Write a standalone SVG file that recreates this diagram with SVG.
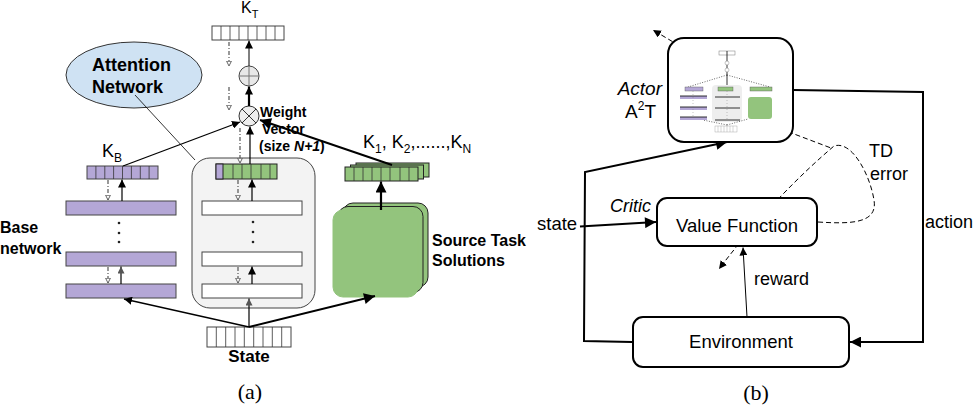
<svg xmlns="http://www.w3.org/2000/svg" width="974" height="406" viewBox="0 0 974 406">
<defs>
<style>
.t{font-family:"Liberation Sans",Arial,sans-serif;fill:#000}
.b{font-weight:bold}
.s{font-family:"Liberation Serif","Times New Roman",serif;fill:#000}
.ln{fill:none;stroke:#000}
.dd{fill:none;stroke:#555;stroke-width:1.2;stroke-dasharray:4 2 1 2}
.cell{stroke:#333;stroke-width:0.8}
.wbar{fill:#fff;stroke:#444;stroke-width:1}
.pbar{fill:#b4a7d6;stroke:#444;stroke-width:1}
.gbar{fill:#93c47d;stroke:#222;stroke-width:1}
.box{fill:#fff;stroke:#000;stroke-width:2}
.dash{fill:none;stroke:#000;stroke-width:1;stroke-dasharray:5 3}
</style>
<marker id="ah" viewBox="0 0 10 10" refX="10" refY="5" markerWidth="8" markerHeight="8" markerUnits="userSpaceOnUse" orient="auto"><path d="M0,0 L10,5 L0,10 z" fill="#000"/></marker>
<marker id="ahL" viewBox="0 0 10 10" refX="10" refY="5" markerWidth="12" markerHeight="11" markerUnits="userSpaceOnUse" orient="auto"><path d="M0,0 L10,5 L0,10 z" fill="#000"/></marker>
<marker id="ahg" viewBox="0 0 10 10" refX="10" refY="5" markerWidth="7" markerHeight="7" markerUnits="userSpaceOnUse" orient="auto"><path d="M0,0 L10,5 L0,10 z" fill="#555"/></marker>
<marker id="ahh" viewBox="0 0 10 10" refX="9" refY="5" markerWidth="6" markerHeight="6" markerUnits="userSpaceOnUse" orient="auto"><path d="M1,1 L9,5 L1,9 z" fill="#fff" stroke="#555" stroke-width="1.5"/></marker>
</defs>

<!-- ===== Panel (a) ===== -->
<g id="attention-network">
<ellipse cx="134" cy="75" rx="68" ry="33" fill="#cfe2f3" stroke="#333" stroke-width="1"/>
<text class="t b" x="92" y="71" font-size="18">Attention</text>
<text class="t b" x="92" y="93" font-size="18">Network</text>
</g>

<g id="kt-bar">
<rect class="wbar" x="212" y="26" width="72" height="14"/>
<path class="cell" d="M221,26v14M230,26v14M239,26v14M248,26v14M257,26v14M266,26v14M275,26v14"/>
<text class="t" x="241" y="13" font-size="16">K<tspan font-size="11" dy="5">T</tspan></text>
</g>

<g id="plus-node">
<circle cx="249" cy="76" r="10" fill="#e8e8e8" stroke="#444" stroke-width="1"/>
<path d="M239,76h20M249,66v20" stroke="#777" stroke-width="1"/>
</g>

<g id="times-node">
<circle cx="249" cy="116" r="10" fill="#eee" stroke="#333" stroke-width="1"/>
<path d="M242,109L256,123M256,109L242,123" stroke="#333" stroke-width="1"/>
</g>

<g id="weight-vector-label">
<text class="t b" x="260" y="117" font-size="14">Weight</text>
<text class="t b" x="262" y="134" font-size="14">Vector</text>
<text class="t b" x="259" y="151" font-size="14">(size <tspan font-style="italic">N+1</tspan>)</text>
</g>

<g id="base-network">
<rect class="pbar" x="87" y="166" width="71" height="13"/>
<path class="cell" d="M95.9,166v13M104.8,166v13M113.6,166v13M122.5,166v13M131.4,166v13M140.3,166v13M149.1,166v13"/>
<text class="t" x="102" y="157" font-size="18">K<tspan font-size="12" dy="5">B</tspan></text>
<rect class="pbar" x="66" y="201" width="110" height="14"/>
<rect class="pbar" x="66" y="252" width="110" height="14"/>
<rect class="pbar" x="66" y="284" width="110" height="14"/>
<circle cx="119" cy="223" r="1.3" fill="#222"/>
<circle cx="119" cy="233" r="1.3" fill="#222"/>
<circle cx="119" cy="242" r="1.3" fill="#222"/>
<text class="t b" x="0" y="233" font-size="16">Base</text>
<text class="t b" x="0" y="254" font-size="16">network</text>
</g>

<g id="target-network">
<rect x="192" y="158" width="123" height="150" rx="18" fill="#f3f3f3" stroke="#444" stroke-width="1"/>
<rect class="gbar" x="216" y="164" width="61" height="15"/>
<rect x="216" y="164" width="7" height="15" fill="#b4a7d6" stroke="#222" stroke-width="1"/>
<path class="cell" d="M233,164v15M242,164v15M251,164v15M261,164v15M270,164v15"/>
<rect class="wbar" x="202" y="201" width="100" height="14"/>
<rect class="wbar" x="202" y="252" width="100" height="14"/>
<rect class="wbar" x="202" y="284" width="100" height="14"/>
<circle cx="253" cy="222" r="1.3" fill="#222"/>
<circle cx="253" cy="232" r="1.3" fill="#222"/>
<circle cx="253" cy="242" r="1.3" fill="#222"/>
</g>

<g id="source-tasks">
<rect class="gbar" x="343" y="203" width="85" height="84" rx="10"/>
<rect class="gbar" x="338" y="206.5" width="85" height="86" rx="10"/>
<rect x="333" y="210" width="85" height="87" rx="10" fill="#93c47d" stroke="#93c47d" stroke-width="1"/>
<text class="t b" x="432" y="246" font-size="16">Source Task</text>
<text class="t b" x="432" y="266" font-size="16">Solutions</text>
</g>

<g id="source-k-bars">
<rect class="gbar" x="356" y="163" width="73" height="14"/>
<rect class="gbar" x="350.5" y="165" width="73" height="14"/>
<rect class="gbar" x="345" y="167" width="73" height="14"/>
<path class="cell" d="M354,167v14M363,167v14M372,167v14M381,167v14M390,167v14M400,167v14M409,167v14"/>
<text class="t" x="363" y="148" font-size="18">K<tspan font-size="12" dy="5">1</tspan><tspan dy="-5">, K</tspan><tspan font-size="12" dy="5">2</tspan><tspan dy="-5">,......,K</tspan><tspan font-size="12" dy="5">N</tspan></text>
</g>

<g id="state-input">
<rect class="wbar" x="207" y="327" width="84" height="20"/>
<path class="cell" d="M216.3,327v20M225.7,327v20M235,327v20M244.3,327v20M253.7,327v20M263,327v20M272.3,327v20M281.7,327v20"/>
<text class="t b" x="249" y="362" font-size="17" text-anchor="middle">State</text>
</g>

<text class="s" x="250" y="399" font-size="22" text-anchor="middle">(a)</text>

<g id="connectors-a">
<line class="ln" x1="135" y1="95" x2="195" y2="160" stroke-width="0.8"/>
<line class="ln" x1="249" y1="66" x2="249" y2="40.5" stroke-width="1" marker-end="url(#ah)"/>
<line class="ln" x1="249" y1="106" x2="249" y2="86.5" stroke-width="2.2" marker-end="url(#ah)"/>
<line class="ln" x1="250" y1="164" x2="250" y2="126.5" stroke-width="1.2" marker-end="url(#ah)"/>
<line class="ln" x1="252" y1="201" x2="252" y2="179.5" stroke-width="1.2" marker-end="url(#ah)"/>
<line class="ln" x1="252" y1="284" x2="252" y2="266.5" stroke-width="1.2" marker-end="url(#ah)"/>
<line class="ln" x1="249" y1="327" x2="249" y2="298.5" stroke="#555" stroke-width="1.2" marker-end="url(#ahg)"/>
<line class="ln" x1="122" y1="201" x2="122" y2="179.5" stroke-width="1.2" marker-end="url(#ah)"/>
<line class="ln" x1="121" y1="284" x2="121" y2="266.5" stroke="#555" stroke-width="1.2" marker-end="url(#ahg)"/>
<line class="ln" x1="123" y1="166" x2="240" y2="122" stroke-width="1.3" marker-end="url(#ah)"/>
<line class="ln" x1="392" y1="165" x2="260" y2="120" stroke-width="2" marker-end="url(#ahL)"/>
<line class="ln" x1="249" y1="327" x2="124" y2="299" stroke-width="1.3" marker-end="url(#ah)"/>
<line class="ln" x1="249" y1="327" x2="375" y2="296" stroke-width="2" marker-end="url(#ahL)"/>
<line class="ln" x1="381" y1="210" x2="381" y2="181.5" stroke-width="2.2" marker-end="url(#ahL)"/>
<line class="dd" x1="229" y1="42" x2="229" y2="66" marker-end="url(#ahh)"/>
<line class="dd" x1="229" y1="87" x2="229" y2="110" marker-end="url(#ahh)"/>
<line class="dd" x1="240" y1="128" x2="240" y2="163" marker-end="url(#ahh)"/>
<line class="dd" x1="238" y1="180" x2="238" y2="200" marker-end="url(#ahh)"/>
<line class="dd" x1="238" y1="267" x2="238" y2="283" marker-end="url(#ahh)"/>
<line class="dd" x1="108" y1="180" x2="108" y2="200" marker-end="url(#ahh)"/>
<line class="dd" x1="108" y1="267" x2="108" y2="283" marker-end="url(#ahh)"/>
</g>

<!-- ===== Panel (b) ===== -->
<g id="connectors-b">
<line class="dash" x1="700" y1="58" x2="653" y2="30" marker-end="url(#ah)"/>
<line class="dash" x1="773" y1="126" x2="831" y2="148"/>
<path class="dash" d="M818,222 C850,224 878,224 874,200 C870,175 852,140 834,146 C800,175 760,215 719,269" marker-end="url(#ah)"/>
<path class="ln" d="M632,342 L584,341 L585,172 L727,142" stroke-width="2" marker-end="url(#ahL)"/>
<path class="ln" d="M793,90 L923,92 L923,342 L850,342" stroke-width="2" marker-end="url(#ahL)"/>
<line class="ln" x1="580" y1="226.5" x2="656" y2="222" stroke-width="2" marker-end="url(#ahL)"/>
<line class="ln" x1="747" y1="317" x2="743" y2="247.5" stroke-width="1" marker-end="url(#ah)"/>
</g>

<g id="actor">
<rect class="box" x="668" y="38" width="125" height="104" rx="16"/>
<g id="actor-thumbnail">
<rect x="712" y="85" width="30" height="37" rx="4" fill="#eee"/>
<rect x="719" y="51" width="16" height="4" fill="#fff" stroke="#777" stroke-width="0.5"/>
<line x1="727" y1="51" x2="727" y2="85" stroke="#000" stroke-width="0.8"/>
<circle cx="727" cy="63" r="2" fill="#fff" stroke="#888" stroke-width="0.5"/>
<circle cx="727" cy="70" r="2" fill="#fff" stroke="#888" stroke-width="0.5"/>
<path d="M727,75 L688,87 M727,75 L770,87 M727,125 L703,120 M727,125 L748,119" stroke="#000" stroke-width="0.6" stroke-dasharray="1 1.5" fill="none"/>
<rect x="685" y="87" width="18" height="4" fill="#b4a7d6" stroke="#555" stroke-width="0.4"/>
<rect x="718" y="87" width="15" height="4" fill="#93c47d" stroke="#555" stroke-width="0.4"/>
<rect x="750" y="87" width="22" height="4" fill="#93c47d" stroke="#555" stroke-width="0.4"/>
<rect x="680" y="96" width="27" height="3" fill="#b4a7d6"/>
<rect x="680" y="107" width="27" height="3" fill="#b4a7d6"/>
<rect x="680" y="117" width="27" height="3" fill="#b4a7d6"/>
<path d="M680,96h27M680,107h27M680,117h27M715,97h25M715,108h25M715,120h25" stroke="#000" stroke-width="0.8"/>
<path d="M693,91v26M727,91v29" stroke="#888" stroke-width="0.5" stroke-dasharray="1 2"/>
<rect x="748" y="97" width="24" height="22" rx="3" fill="#93c47d"/>
<rect x="715" y="126" width="22" height="6" fill="#fff" stroke="#999" stroke-width="0.4"/>
<path d="M718,126v6M721,126v6M724,126v6M727,126v6M730,126v6M733,126v6" stroke="#999" stroke-width="0.4"/>
</g>
<text class="t" x="662" y="95" font-size="19" font-style="italic" text-anchor="end">Actor</text>
<text class="t" x="625" y="118" font-size="19">A<tspan font-size="12" dy="-8">2</tspan><tspan dy="8">T</tspan></text>
</g>

<g id="critic">
<rect class="box" x="657" y="198" width="160" height="48" rx="10"/>
<text class="t" x="737" y="232" font-size="18.5" text-anchor="middle">Value Function</text>
<text class="t" x="610" y="212" font-size="18" font-style="italic">Critic</text>
</g>

<g id="environment">
<rect class="box" x="633" y="317" width="216" height="50" rx="10"/>
<text class="t" x="741" y="348" font-size="18.5" text-anchor="middle">Environment</text>
</g>

<g id="labels-b">
<text class="t" x="537" y="230" font-size="18.5">state</text>
<text class="t" x="925" y="228" font-size="18">action</text>
<text class="t" x="869" y="157" font-size="18">TD</text>
<text class="t" x="870" y="180" font-size="18">error</text>
<text class="t" x="754" y="285" font-size="18">reward</text>
</g>

<text class="s" x="756" y="400" font-size="22" text-anchor="middle">(b)</text>
</svg>
